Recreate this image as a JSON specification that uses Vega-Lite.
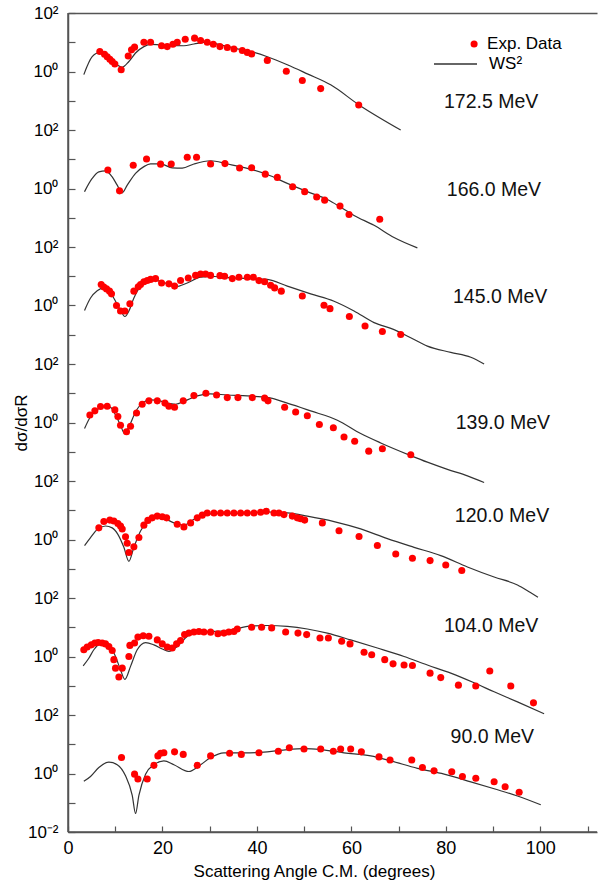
{
"$schema":"https://vega.github.io/schema/vega-lite/v6.json",
"width":529,"height":819,
"autosize":{"type":"none"},
"padding":{"left":68,"top":13,"right":8,"bottom":56},
"background":"white",
"config":{"view":{"stroke":null},"font":"Liberation Sans"},
"resolve":{"axis":{"x":"independent","y":"independent"}},
"datasets":{
"ws":[
{"energy":"172.5","angle":3.35,"ratio":7.8e23},{"energy":"172.5","angle":5.12,"ratio":3.2e24},{"energy":"172.5","angle":6.74,"ratio":4.5e24},{"energy":"172.5","angle":7.94,"ratio":4.3e24},{"energy":"172.5","angle":9.0,"ratio":2.8e24},{"energy":"172.5","angle":10.06,"ratio":1.9e24},{"energy":"172.5","angle":11.48,"ratio":1.4e24},{"energy":"172.5","angle":12.89,"ratio":2.2e24},{"energy":"172.5","angle":14.3,"ratio":4.3e24},{"energy":"172.5","angle":16.07,"ratio":7.1e24},{"energy":"172.5","angle":17.48,"ratio":8.5e24},{"energy":"172.5","angle":19.6,"ratio":8.1e24},{"energy":"172.5","angle":21.72,"ratio":7.8e24},{"energy":"172.5","angle":24.54,"ratio":7.6e24},{"energy":"172.5","angle":26.66,"ratio":8.7e24},{"energy":"172.5","angle":29.48,"ratio":1.0e25},{"energy":"172.5","angle":32.31,"ratio":8.1e24},{"energy":"172.5","angle":35.13,"ratio":6.3e24},{"energy":"172.5","angle":39.37,"ratio":4.5e24},{"energy":"172.5","angle":42.2,"ratio":3.2e24},{"energy":"172.5","angle":46.43,"ratio":1.7e24},{"energy":"172.5","angle":50.67,"ratio":8.3e23},{"energy":"172.5","angle":55.61,"ratio":3.5e23},{"energy":"172.5","angle":61.62,"ratio":7.2e22},{"energy":"172.5","angle":70.44,"ratio":1.0e22},
{"energy":"166.0","angle":3.5,"ratio":7.8e19},{"energy":"166.0","angle":5.12,"ratio":2.2e20},{"energy":"166.0","angle":6.53,"ratio":3.7e20},{"energy":"166.0","angle":7.94,"ratio":4.0e20},{"energy":"166.0","angle":9.36,"ratio":2.5e20},{"energy":"166.0","angle":10.42,"ratio":1.3e20},{"energy":"166.0","angle":11.48,"ratio":7.1e19},{"energy":"166.0","angle":12.54,"ratio":1.3e20},{"energy":"166.0","angle":14.3,"ratio":3.3e20},{"energy":"166.0","angle":16.07,"ratio":5.6e20},{"energy":"166.0","angle":17.48,"ratio":6.9e20},{"energy":"166.0","angle":19.6,"ratio":6.9e20},{"energy":"166.0","angle":22.07,"ratio":5.1e20},{"energy":"166.0","angle":24.19,"ratio":5.0e20},{"energy":"166.0","angle":26.66,"ratio":6.9e20},{"energy":"166.0","angle":30.19,"ratio":8.9e20},{"energy":"166.0","angle":33.72,"ratio":6.9e20},{"energy":"166.0","angle":37.96,"ratio":4.9e20},{"energy":"166.0","angle":42.2,"ratio":3.0e20},{"energy":"166.0","angle":46.43,"ratio":1.5e20},{"energy":"166.0","angle":50.67,"ratio":7.8e19},{"energy":"166.0","angle":54.91,"ratio":4.2e19},{"energy":"166.0","angle":57.73,"ratio":2.3e19},{"energy":"166.0","angle":60.56,"ratio":1.2e19},{"energy":"166.0","angle":64.8,"ratio":5.5e18},{"energy":"166.0","angle":69.03,"ratio":2.1e18},{"energy":"166.0","angle":73.97,"ratio":9.3e17},
{"energy":"145.0","angle":3.5,"ratio":6.8e15},{"energy":"145.0","angle":4.77,"ratio":1.8e16},{"energy":"145.0","angle":6.18,"ratio":3.2e16},{"energy":"145.0","angle":7.59,"ratio":4.0e16},{"energy":"145.0","angle":9.0,"ratio":2.7e16},{"energy":"145.0","angle":10.06,"ratio":1.4e16},{"energy":"145.0","angle":11.12,"ratio":6.8e15},{"energy":"145.0","angle":12.04,"ratio":4.2e15},{"energy":"145.0","angle":12.89,"ratio":6.5e15},{"energy":"145.0","angle":13.95,"ratio":1.8e16},{"energy":"145.0","angle":15.36,"ratio":4.6e16},{"energy":"145.0","angle":17.13,"ratio":6.8e16},{"energy":"145.0","angle":18.9,"ratio":7.1e16},{"energy":"145.0","angle":21.01,"ratio":5.5e16},{"energy":"145.0","angle":22.77,"ratio":4.4e16},{"energy":"145.0","angle":25.25,"ratio":5.9e16},{"energy":"145.0","angle":28.07,"ratio":9.3e16},{"energy":"145.0","angle":30.9,"ratio":9.8e16},{"energy":"145.0","angle":35.13,"ratio":8.7e16},{"energy":"145.0","angle":39.37,"ratio":8.3e16},{"energy":"145.0","angle":42.2,"ratio":7.8e16},{"energy":"145.0","angle":46.43,"ratio":4.6e16},{"energy":"145.0","angle":51.38,"ratio":2.5e16},{"energy":"145.0","angle":56.33,"ratio":1.4e16},{"energy":"145.0","angle":60.56,"ratio":6.5e15},{"energy":"145.0","angle":64.8,"ratio":2.6e15},{"energy":"145.0","angle":69.03,"ratio":1.5e15},{"energy":"145.0","angle":72.56,"ratio":7.9e14},{"energy":"145.0","angle":76.09,"ratio":4.1e14},{"energy":"145.0","angle":81.04,"ratio":2.5e14},{"energy":"145.0","angle":85.28,"ratio":1.7e14},{"energy":"145.0","angle":88.1,"ratio":1.0e14},
{"energy":"139.0","angle":3.5,"ratio":6.2e11},{"energy":"139.0","angle":4.77,"ratio":1.6e12},{"energy":"139.0","angle":6.18,"ratio":2.8e12},{"energy":"139.0","angle":7.59,"ratio":3.5e12},{"energy":"139.0","angle":9.0,"ratio":3.3e12},{"energy":"139.0","angle":10.06,"ratio":1.8e12},{"energy":"139.0","angle":11.12,"ratio":8.1e11},{"energy":"139.0","angle":11.97,"ratio":4.2e11},{"energy":"139.0","angle":12.89,"ratio":7.1e11},{"energy":"139.0","angle":14.3,"ratio":2.3e12},{"energy":"139.0","angle":15.71,"ratio":4.6e12},{"energy":"139.0","angle":17.48,"ratio":5.9e12},{"energy":"139.0","angle":19.25,"ratio":5.6e12},{"energy":"139.0","angle":21.01,"ratio":4.6e12},{"energy":"139.0","angle":22.77,"ratio":4.2e12},{"energy":"139.0","angle":24.89,"ratio":5.6e12},{"energy":"139.0","angle":27.37,"ratio":8.1e12},{"energy":"139.0","angle":30.19,"ratio":9.5e12},{"energy":"139.0","angle":33.72,"ratio":8.7e12},{"energy":"139.0","angle":37.96,"ratio":8.1e12},{"energy":"139.0","angle":42.2,"ratio":7.2e12},{"energy":"139.0","angle":46.43,"ratio":4.6e12},{"energy":"139.0","angle":51.38,"ratio":2.5e12},{"energy":"139.0","angle":57.03,"ratio":1.2e12},{"energy":"139.0","angle":61.97,"ratio":4.2e11},{"energy":"139.0","angle":66.21,"ratio":2.0e11},{"energy":"139.0","angle":72.56,"ratio":7.4e10},{"energy":"139.0","angle":76.09,"ratio":4.4e10},{"energy":"139.0","angle":80.33,"ratio":2.5e10},{"energy":"139.0","angle":84.57,"ratio":1.5e10},{"energy":"139.0","angle":88.1,"ratio":8.9e9},
{"energy":"120.0","angle":3.5,"ratio":6.2e7},{"energy":"120.0","angle":4.77,"ratio":1.17e8},{"energy":"120.0","angle":6.18,"ratio":2.2e8},{"energy":"120.0","angle":7.94,"ratio":2.9e8},{"energy":"120.0","angle":9.36,"ratio":2.5e8},{"energy":"120.0","angle":10.56,"ratio":1.5e8},{"energy":"120.0","angle":11.83,"ratio":5.4e7},{"energy":"120.0","angle":12.89,"ratio":1.8e7},{"energy":"120.0","angle":13.95,"ratio":5.4e7},{"energy":"120.0","angle":15.36,"ratio":1.95e8},{"energy":"120.0","angle":16.77,"ratio":4.1e8},{"energy":"120.0","angle":18.54,"ratio":5.5e8},{"energy":"120.0","angle":20.31,"ratio":5.2e8},{"energy":"120.0","angle":22.42,"ratio":3.7e8},{"energy":"120.0","angle":24.54,"ratio":3.1e8},{"energy":"120.0","angle":26.66,"ratio":4.9e8},{"energy":"120.0","angle":28.78,"ratio":7.1e8},{"energy":"120.0","angle":32.31,"ratio":7.8e8},{"energy":"120.0","angle":37.25,"ratio":7.8e8},{"energy":"120.0","angle":42.2,"ratio":8.7e8},{"energy":"120.0","angle":46.43,"ratio":8.1e8},{"energy":"120.0","angle":50.67,"ratio":6.3e8},{"energy":"120.0","angle":56.33,"ratio":4.1e8},{"energy":"120.0","angle":61.97,"ratio":2.3e8},{"energy":"120.0","angle":67.62,"ratio":1.07e8},{"energy":"120.0","angle":73.27,"ratio":5.4e7},{"energy":"120.0","angle":78.92,"ratio":2.8e7},{"energy":"120.0","angle":84.57,"ratio":1.15e7},{"energy":"120.0","angle":90.22,"ratio":5.2e6},{"energy":"120.0","angle":95.16,"ratio":2.8e6},{"energy":"120.0","angle":97.99,"ratio":1.5e6},{"energy":"120.0","angle":99.5,"ratio":1.07e6},
{"energy":"104.0","angle":3.21,"ratio":4.8e3},{"energy":"104.0","angle":4.41,"ratio":8.7e3},{"energy":"104.0","angle":5.47,"ratio":1.7e4},{"energy":"104.0","angle":6.74,"ratio":2.7e4},{"energy":"104.0","angle":7.94,"ratio":2.9e4},{"energy":"104.0","angle":9.0,"ratio":2.2e4},{"energy":"104.0","angle":10.06,"ratio":1.0e4},{"energy":"104.0","angle":11.12,"ratio":3.5e3},{"energy":"104.0","angle":12.04,"ratio":1.66e3},{"energy":"104.0","angle":13.24,"ratio":4.6e3},{"energy":"104.0","angle":14.65,"ratio":1.7e4},{"energy":"104.0","angle":16.42,"ratio":3.0e4},{"energy":"104.0","angle":18.19,"ratio":2.5e4},{"energy":"104.0","angle":19.96,"ratio":1.8e4},{"energy":"104.0","angle":21.36,"ratio":1.5e4},{"energy":"104.0","angle":23.13,"ratio":2.2e4},{"energy":"104.0","angle":25.25,"ratio":4.9e4},{"energy":"104.0","angle":27.37,"ratio":6.9e4},{"energy":"104.0","angle":30.9,"ratio":7.2e4},{"energy":"104.0","angle":34.43,"ratio":7.9e4},{"energy":"104.0","angle":37.96,"ratio":1.07e5},{"energy":"104.0","angle":42.2,"ratio":1.15e5},{"energy":"104.0","angle":46.43,"ratio":1.07e5},{"energy":"104.0","angle":50.67,"ratio":8.7e4},{"energy":"104.0","angle":54.91,"ratio":6.3e4},{"energy":"104.0","angle":59.85,"ratio":3.7e4},{"energy":"104.0","angle":65.5,"ratio":1.95e4},{"energy":"104.0","angle":71.15,"ratio":1.0e4},{"energy":"104.0","angle":76.09,"ratio":5.1e3},{"energy":"104.0","angle":81.04,"ratio":2.7e3},{"energy":"104.0","angle":85.98,"ratio":1.26e3},{"energy":"104.0","angle":90.22,"ratio":620},{"energy":"104.0","angle":95.16,"ratio":280},{"energy":"104.0","angle":100.8,"ratio":110},
{"energy":"90.0","angle":3.35,"ratio":0.54},{"energy":"90.0","angle":4.77,"ratio":0.79},{"energy":"90.0","angle":6.53,"ratio":1.6},{"energy":"90.0","angle":8.65,"ratio":2.45},{"energy":"90.0","angle":10.42,"ratio":2.0},{"energy":"90.0","angle":12.18,"ratio":0.83},{"energy":"90.0","angle":13.6,"ratio":0.18},{"energy":"90.0","angle":14.3,"ratio":0.043},{"energy":"90.0","angle":15.01,"ratio":0.18},{"energy":"90.0","angle":16.42,"ratio":0.95},{"energy":"90.0","angle":18.19,"ratio":2.0},{"energy":"90.0","angle":20.3,"ratio":2.7},{"energy":"90.0","angle":22.42,"ratio":2.0},{"energy":"90.0","angle":25.6,"ratio":1.17},{"energy":"90.0","angle":27.72,"ratio":1.8},{"energy":"90.0","angle":30.19,"ratio":3.5},{"energy":"90.0","angle":33.02,"ratio":5.1},{"energy":"90.0","angle":37.25,"ratio":5.1},{"energy":"90.0","angle":42.2,"ratio":5.5},{"energy":"90.0","angle":46.43,"ratio":6.6},{"energy":"90.0","angle":49.97,"ratio":7.1},{"energy":"90.0","angle":53.5,"ratio":6.6},{"energy":"90.0","angle":58.44,"ratio":5.1},{"energy":"90.0","angle":64.09,"ratio":4.0},{"energy":"90.0","angle":68.33,"ratio":2.7},{"energy":"90.0","angle":73.98,"ratio":1.5},{"energy":"90.0","angle":79.63,"ratio":0.95},{"energy":"90.0","angle":85.28,"ratio":0.52},{"energy":"90.0","angle":90.22,"ratio":0.30},{"energy":"90.0","angle":95.16,"ratio":0.17},{"energy":"90.0","angle":100.1,"ratio":0.085}
],
"exp":[
{"energy":"172.5","angle":6.74,"ratio":4.8e24},{"energy":"172.5","angle":7.73,"ratio":3.9e24},{"energy":"172.5","angle":8.3,"ratio":3.2e24},{"energy":"172.5","angle":8.86,"ratio":2.6e24},{"energy":"172.5","angle":9.36,"ratio":2.2e24},{"energy":"172.5","angle":9.92,"ratio":1.8e24},{"energy":"172.5","angle":11.26,"ratio":1.15e24},{"energy":"172.5","angle":12.75,"ratio":3.4e24},{"energy":"172.5","angle":13.45,"ratio":5.5e24},{"energy":"172.5","angle":14.09,"ratio":6.8e24},{"energy":"172.5","angle":16.07,"ratio":1.0e25},{"energy":"172.5","angle":17.48,"ratio":1.0e25},{"energy":"172.5","angle":19.81,"ratio":7.6e24},{"energy":"172.5","angle":21.01,"ratio":7.1e24},{"energy":"172.5","angle":22.21,"ratio":8.5e24},{"energy":"172.5","angle":23.13,"ratio":1.0e25},{"energy":"172.5","angle":24.82,"ratio":1.26e25},{"energy":"172.5","angle":26.8,"ratio":1.38e25},{"energy":"172.5","angle":28.07,"ratio":1.15e25},{"energy":"172.5","angle":29.48,"ratio":1.0e25},{"energy":"172.5","angle":30.76,"ratio":8.5e24},{"energy":"172.5","angle":32.17,"ratio":7.1e24},{"energy":"172.5","angle":33.72,"ratio":6.6e24},{"energy":"172.5","angle":35.13,"ratio":5.9e24},{"energy":"172.5","angle":36.9,"ratio":5.2e24},{"energy":"172.5","angle":37.96,"ratio":4.5e24},{"energy":"172.5","angle":38.88,"ratio":4.0e24},{"energy":"172.5","angle":42.2,"ratio":2.4e24},{"energy":"172.5","angle":46.22,"ratio":1.02e24},{"energy":"172.5","angle":49.61,"ratio":4.9e23},{"energy":"172.5","angle":53.5,"ratio":2.6e23},{"energy":"172.5","angle":61.55,"ratio":7.2e22},
{"energy":"166.0","angle":8.44,"ratio":4.3e20},{"energy":"166.0","angle":10.91,"ratio":8.3e19},{"energy":"166.0","angle":13.81,"ratio":6.2e20},{"energy":"166.0","angle":16.63,"ratio":1.02e21},{"energy":"166.0","angle":19.6,"ratio":6.8e20},{"energy":"166.0","angle":21.86,"ratio":6.9e20},{"energy":"166.0","angle":25.25,"ratio":1.17e21},{"energy":"166.0","angle":27.22,"ratio":1.17e21},{"energy":"166.0","angle":30.19,"ratio":6.9e20},{"energy":"166.0","angle":33.23,"ratio":7.1e20},{"energy":"166.0","angle":36.33,"ratio":5.0e20},{"energy":"166.0","angle":38.88,"ratio":5.1e20},{"energy":"166.0","angle":41.77,"ratio":3.1e20},{"energy":"166.0","angle":44.32,"ratio":2.4e20},{"energy":"166.0","angle":47.56,"ratio":1.15e20},{"energy":"166.0","angle":50.11,"ratio":7.8e19},{"energy":"166.0","angle":52.65,"ratio":5.1e19},{"energy":"166.0","angle":54.34,"ratio":4.0e19},{"energy":"166.0","angle":57.59,"ratio":2.5e19},{"energy":"166.0","angle":59.5,"ratio":1.3e19},{"energy":"166.0","angle":66.0,"ratio":8.9e18},
{"energy":"145.0","angle":7.03,"ratio":5.2e16},{"energy":"145.0","angle":7.59,"ratio":4.3e16},{"energy":"145.0","angle":8.16,"ratio":3.7e16},{"energy":"145.0","angle":8.79,"ratio":3.1e16},{"energy":"145.0","angle":9.21,"ratio":2.5e16},{"energy":"145.0","angle":10.27,"ratio":1.0e16},{"energy":"145.0","angle":11.12,"ratio":6.5e15},{"energy":"145.0","angle":12.04,"ratio":6.5e15},{"energy":"145.0","angle":13.1,"ratio":1.15e16},{"energy":"145.0","angle":13.95,"ratio":3.1e16},{"energy":"145.0","angle":14.87,"ratio":4.4e16},{"energy":"145.0","angle":15.36,"ratio":5.2e16},{"energy":"145.0","angle":16.07,"ratio":6.5e16},{"energy":"145.0","angle":16.77,"ratio":7.2e16},{"energy":"145.0","angle":17.48,"ratio":7.8e16},{"energy":"145.0","angle":18.54,"ratio":8.3e16},{"energy":"145.0","angle":19.81,"ratio":5.9e16},{"energy":"145.0","angle":21.36,"ratio":5.5e16},{"energy":"145.0","angle":22.56,"ratio":4.6e16},{"energy":"145.0","angle":23.83,"ratio":7.2e16},{"energy":"145.0","angle":25.46,"ratio":8.7e16},{"energy":"145.0","angle":27.01,"ratio":1.07e17},{"energy":"145.0","angle":28.07,"ratio":1.2e17},{"energy":"145.0","angle":29.13,"ratio":1.2e17},{"energy":"145.0","angle":30.19,"ratio":1.07e17},{"energy":"145.0","angle":32.17,"ratio":1.05e17},{"energy":"145.0","angle":33.16,"ratio":1.0e17},{"energy":"145.0","angle":34.78,"ratio":8.3e16},{"energy":"145.0","angle":36.19,"ratio":9.3e16},{"energy":"145.0","angle":37.96,"ratio":9.3e16},{"energy":"145.0","angle":39.23,"ratio":9.3e16},{"energy":"145.0","angle":40.43,"ratio":7.1e16},{"energy":"145.0","angle":41.63,"ratio":6.5e16},{"energy":"145.0","angle":42.9,"ratio":4.9e16},{"energy":"145.0","angle":43.75,"ratio":4.0e16},{"energy":"145.0","angle":45.16,"ratio":3.1e16},{"energy":"145.0","angle":49.61,"ratio":2.1e16},{"energy":"145.0","angle":54.2,"ratio":1.02e16},{"energy":"145.0","angle":55.47,"ratio":7.8e15},{"energy":"145.0","angle":59.57,"ratio":4.2e15},{"energy":"145.0","angle":62.89,"ratio":2.0e15},{"energy":"145.0","angle":66.56,"ratio":1.3e15},{"energy":"145.0","angle":70.44,"ratio":1.02e15},
{"energy":"139.0","angle":4.63,"ratio":1.8e12},{"energy":"139.0","angle":5.69,"ratio":2.5e12},{"energy":"139.0","angle":6.89,"ratio":3.5e12},{"energy":"139.0","angle":8.3,"ratio":3.6e12},{"energy":"139.0","angle":9.92,"ratio":2.7e12},{"energy":"139.0","angle":10.56,"ratio":1.6e12},{"energy":"139.0","angle":11.12,"ratio":8.1e11},{"energy":"139.0","angle":12.39,"ratio":4.8e11},{"energy":"139.0","angle":13.24,"ratio":7.4e11},{"energy":"139.0","angle":14.51,"ratio":2.1e12},{"energy":"139.0","angle":15.71,"ratio":4.2e12},{"energy":"139.0","angle":17.13,"ratio":5.5e12},{"energy":"139.0","angle":18.9,"ratio":5.5e12},{"energy":"139.0","angle":20.52,"ratio":4.6e12},{"energy":"139.0","angle":21.36,"ratio":3.6e12},{"energy":"139.0","angle":22.56,"ratio":3.3e12},{"energy":"139.0","angle":24.4,"ratio":5.5e12},{"energy":"139.0","angle":26.66,"ratio":8.3e12},{"energy":"139.0","angle":29.2,"ratio":1.0e13},{"energy":"139.0","angle":31.46,"ratio":8.7e12},{"energy":"139.0","angle":33.72,"ratio":7.1e12},{"energy":"139.0","angle":35.98,"ratio":7.1e12},{"energy":"139.0","angle":39.02,"ratio":7.1e12},{"energy":"139.0","angle":41.63,"ratio":6.8e12},{"energy":"139.0","angle":42.34,"ratio":5.5e12},{"energy":"139.0","angle":45.87,"ratio":3.3e12},{"energy":"139.0","angle":48.2,"ratio":2.3e12},{"energy":"139.0","angle":50.67,"ratio":1.7e12},{"energy":"139.0","angle":53.22,"ratio":8.5e11},{"energy":"139.0","angle":56.18,"ratio":6.6e11},{"energy":"139.0","angle":58.44,"ratio":3.2e11},{"energy":"139.0","angle":60.7,"ratio":2.3e11},{"energy":"139.0","angle":63.67,"ratio":1.05e11},{"energy":"139.0","angle":66.56,"ratio":1.26e11},{"energy":"139.0","angle":72.57,"ratio":7.9e10},
{"energy":"120.0","angle":6.53,"ratio":2.5e8},{"energy":"120.0","angle":7.59,"ratio":4.1e8},{"energy":"120.0","angle":8.86,"ratio":4.6e8},{"energy":"120.0","angle":9.71,"ratio":4.3e8},{"energy":"120.0","angle":10.56,"ratio":3.5e8},{"energy":"120.0","angle":11.12,"ratio":2.9e8},{"energy":"120.0","angle":11.48,"ratio":2.3e8},{"energy":"120.0","angle":12.18,"ratio":1.23e8},{"energy":"120.0","angle":12.54,"ratio":7.4e7},{"energy":"120.0","angle":12.89,"ratio":3.6e7},{"energy":"120.0","angle":13.95,"ratio":5.6e7},{"energy":"120.0","angle":15.01,"ratio":1.17e8},{"energy":"120.0","angle":16.07,"ratio":3.1e8},{"energy":"120.0","angle":16.91,"ratio":4.5e8},{"energy":"120.0","angle":17.83,"ratio":5.5e8},{"energy":"120.0","angle":18.9,"ratio":6.3e8},{"energy":"120.0","angle":19.96,"ratio":6.0e8},{"energy":"120.0","angle":20.88,"ratio":5.5e8},{"energy":"120.0","angle":23.13,"ratio":3.3e8},{"energy":"120.0","angle":24.54,"ratio":2.7e8},{"energy":"120.0","angle":25.96,"ratio":3.7e8},{"energy":"120.0","angle":27.37,"ratio":5.5e8},{"energy":"120.0","angle":28.43,"ratio":6.8e8},{"energy":"120.0","angle":29.48,"ratio":8.1e8},{"energy":"120.0","angle":30.9,"ratio":8.1e8},{"energy":"120.0","angle":32.31,"ratio":8.1e8},{"energy":"120.0","angle":33.72,"ratio":8.1e8},{"energy":"120.0","angle":35.13,"ratio":8.1e8},{"energy":"120.0","angle":36.55,"ratio":8.1e8},{"energy":"120.0","angle":37.96,"ratio":8.1e8},{"energy":"120.0","angle":39.37,"ratio":8.1e8},{"energy":"120.0","angle":40.78,"ratio":8.5e8},{"energy":"120.0","angle":41.98,"ratio":9.3e8},{"energy":"120.0","angle":43.61,"ratio":8.1e8},{"energy":"120.0","angle":44.67,"ratio":8.1e8},{"energy":"120.0","angle":45.73,"ratio":7.1e8},{"energy":"120.0","angle":47.49,"ratio":6.3e8},{"energy":"120.0","angle":48.55,"ratio":5.5e8},{"energy":"120.0","angle":49.26,"ratio":5.1e8},{"energy":"120.0","angle":50.11,"ratio":4.6e8},{"energy":"120.0","angle":53.85,"ratio":3.7e8},{"energy":"120.0","angle":57.38,"ratio":2.0e8},{"energy":"120.0","angle":61.62,"ratio":1.26e8},{"energy":"120.0","angle":65.5,"ratio":6.2e7},{"energy":"120.0","angle":69.39,"ratio":3.2e7},{"energy":"120.0","angle":72.92,"ratio":2.3e7},{"energy":"120.0","angle":76.66,"ratio":1.9e7},{"energy":"120.0","angle":79.98,"ratio":1.35e7},{"energy":"120.0","angle":83.37,"ratio":8.7e6},
{"energy":"104.0","angle":3.35,"ratio":1.7e4},{"energy":"104.0","angle":4.06,"ratio":2.1e4},{"energy":"104.0","angle":4.94,"ratio":2.5e4},{"energy":"104.0","angle":5.69,"ratio":2.9e4},{"energy":"104.0","angle":6.39,"ratio":3.0e4},{"energy":"104.0","angle":7.24,"ratio":2.9e4},{"energy":"104.0","angle":7.94,"ratio":2.7e4},{"energy":"104.0","angle":8.65,"ratio":2.2e4},{"energy":"104.0","angle":9.36,"ratio":1.6e4},{"energy":"104.0","angle":9.71,"ratio":7.8e3},{"energy":"104.0","angle":10.06,"ratio":4.0e3},{"energy":"104.0","angle":10.77,"ratio":2.0e3},{"energy":"104.0","angle":11.48,"ratio":4.0e3},{"energy":"104.0","angle":12.89,"ratio":1.0e4},{"energy":"104.0","angle":13.1,"ratio":2.4e4},{"energy":"104.0","angle":14.09,"ratio":2.9e4},{"energy":"104.0","angle":14.8,"ratio":4.6e4},{"energy":"104.0","angle":15.93,"ratio":5.1e4},{"energy":"104.0","angle":17.13,"ratio":4.9e4},{"energy":"104.0","angle":18.9,"ratio":3.7e4},{"energy":"104.0","angle":19.96,"ratio":2.7e4},{"energy":"104.0","angle":21.01,"ratio":2.1e4},{"energy":"104.0","angle":22.07,"ratio":1.95e4},{"energy":"104.0","angle":22.99,"ratio":2.7e4},{"energy":"104.0","angle":23.83,"ratio":3.5e4},{"energy":"104.0","angle":24.68,"ratio":5.6e4},{"energy":"104.0","angle":25.6,"ratio":6.3e4},{"energy":"104.0","angle":26.66,"ratio":6.9e4},{"energy":"104.0","angle":27.72,"ratio":7.2e4},{"energy":"104.0","angle":28.78,"ratio":6.9e4},{"energy":"104.0","angle":30.19,"ratio":6.8e4},{"energy":"104.0","angle":31.74,"ratio":6.0e4},{"energy":"104.0","angle":33.02,"ratio":6.3e4},{"energy":"104.0","angle":34.04,"ratio":6.9e4},{"energy":"104.0","angle":35.13,"ratio":7.2e4},{"energy":"104.0","angle":35.84,"ratio":8.7e4},{"energy":"104.0","angle":38.88,"ratio":1.0e5},{"energy":"104.0","angle":40.99,"ratio":1.0e5},{"energy":"104.0","angle":43.12,"ratio":9.5e4},{"energy":"104.0","angle":46.08,"ratio":6.9e4},{"energy":"104.0","angle":48.69,"ratio":6.3e4},{"energy":"104.0","angle":50.53,"ratio":5.6e4},{"energy":"104.0","angle":53.35,"ratio":4.3e4},{"energy":"104.0","angle":55.12,"ratio":4.3e4},{"energy":"104.0","angle":57.94,"ratio":3.3e4},{"energy":"104.0","angle":59.71,"ratio":2.7e4},{"energy":"104.0","angle":62.68,"ratio":1.4e4},{"energy":"104.0","angle":64.3,"ratio":1.15e4},{"energy":"104.0","angle":67.06,"ratio":7.8e3},{"energy":"104.0","angle":68.82,"ratio":5.6e3},{"energy":"104.0","angle":71.15,"ratio":5.1e3},{"energy":"104.0","angle":72.92,"ratio":4.9e3},{"energy":"104.0","angle":76.66,"ratio":2.7e3},{"energy":"104.0","angle":78.92,"ratio":1.9e3},{"energy":"104.0","angle":82.66,"ratio":1.05e3},{"energy":"104.0","angle":86.33,"ratio":980},{"energy":"104.0","angle":89.3,"ratio":3.2e3},{"energy":"104.0","angle":93.75,"ratio":980},{"energy":"104.0","angle":98.55,"ratio":260},
{"energy":"90.0","angle":11.33,"ratio":3.5},{"energy":"90.0","angle":14.09,"ratio":0.95},{"energy":"90.0","angle":14.8,"ratio":0.65},{"energy":"90.0","angle":16.77,"ratio":0.65},{"energy":"90.0","angle":18.19,"ratio":1.9},{"energy":"90.0","angle":19.03,"ratio":4.0},{"energy":"90.0","angle":19.6,"ratio":4.9},{"energy":"90.0","angle":20.3,"ratio":5.1},{"energy":"90.0","angle":22.56,"ratio":5.5},{"energy":"90.0","angle":24.4,"ratio":4.5},{"energy":"90.0","angle":27.37,"ratio":1.9},{"energy":"90.0","angle":30.19,"ratio":4.0},{"energy":"90.0","angle":34.22,"ratio":4.9},{"energy":"90.0","angle":36.69,"ratio":4.5},{"energy":"90.0","angle":40.43,"ratio":5.1},{"energy":"90.0","angle":44.53,"ratio":5.8},{"energy":"90.0","angle":46.86,"ratio":7.6},{"energy":"90.0","angle":49.97,"ratio":6.9},{"energy":"90.0","angle":53.5,"ratio":6.9},{"energy":"90.0","angle":56.18,"ratio":5.8},{"energy":"90.0","angle":57.73,"ratio":6.9},{"energy":"90.0","angle":59.85,"ratio":6.9},{"energy":"90.0","angle":62.11,"ratio":5.5},{"energy":"90.0","angle":65.85,"ratio":3.7},{"energy":"90.0","angle":68.18,"ratio":2.9},{"energy":"90.0","angle":72.78,"ratio":2.9},{"energy":"90.0","angle":75.04,"ratio":1.6},{"energy":"90.0","angle":77.5,"ratio":1.23},{"energy":"90.0","angle":81.25,"ratio":1.15},{"energy":"90.0","angle":83.51,"ratio":0.79},{"energy":"90.0","angle":86.34,"ratio":0.69},{"energy":"90.0","angle":90.22,"ratio":0.52},{"energy":"90.0","angle":92.55,"ratio":0.35},{"energy":"90.0","angle":95.52,"ratio":0.23}
]
},
"layer":[
{"data":{"name":"ws"},
 "mark":{"type":"line","strokeWidth":1.2,"interpolate":"monotone"},
 "encoding":{
  "x":{"field":"angle","type":"quantitative","scale":{"domain":[0,112],"nice":false,"zero":false},
   "axis":{"orient":"bottom","domain":true,"ticks":true,"values":[0,10,20,30,40,50,60,70,80,90,100,110],"labelExpr":"datum.value % 20 == 0 ? datum.label : ''","tickSize":-6,"labelPadding":13,"grid":false,"labelFlush":false,"labelFontSize":18,"labelColor":"#000","domainColor":"#555","domainWidth":1.5,"tickColor":"#555","tickWidth":1.2,"title":"Scattering Angle C.M. (degrees)","titleFontSize":17,"titleFontWeight":"normal","titleColor":"#000","titlePadding":6,"titleX":246}},
  "y":{"field":"ratio","type":"quantitative","scale":{"type":"log","domain":[0.01,1e26],"nice":false},
   "axis":{"orient":"left","domain":true,"ticks":true,"values":[0.01,0.1,1,10,100,1000,1e4,1e5,1e6,1e7,1e8,1e9,1e10,1e11,1e12,1e13,1e14,1e15,1e16,1e17,1e18,1e19,1e20,1e21,1e22,1e23,1e24,1e25,1e26],
    "labelExpr":"round(log(datum.value)/LN10) % 2 != 0 ? '' : (round(log(datum.value)/LN10) == -2 ? '10⁻²' : (round(log(datum.value)/LN10) % 4 == 0 ? '10⁰' : '10²'))",
    "tickSize":-7,"labelPadding":17,"grid":false,"labelOverlap":false,"labelFlush":false,"labelFontSize":17,"labelColor":"#000","domainColor":"#555","domainWidth":1.5,"tickColor":"#555","tickWidth":1.2,"title":"dσ/dσR","titleFontSize":17,"titleFontWeight":"normal","titleColor":"#000","titlePadding":-3}},
  "detail":{"field":"energy"},
  "stroke":{"datum":"WS²","scale":{"range":["#333333"]},"legend":{"orient":"none","legendX":365,"legendY":28.5,"title":null,"symbolType":"stroke","symbolSize":1849,"symbolStrokeWidth":1.3,"labelFontSize":17,"labelColor":"#000","labelOffset":11,"padding":0}}
 }},
{"data":{"name":"exp"},
 "mark":{"type":"circle","size":50,"opacity":1},
 "encoding":{
  "x":{"field":"angle","type":"quantitative","axis":{"orient":"top","domain":true,"labels":false,"ticks":false,"title":null,"grid":false,"domainColor":"#555","domainWidth":1.5}},
  "y":{"field":"ratio","type":"quantitative","axis":null},
  "color":{"datum":"Exp. Data","scale":{"range":["#ff0000"]},"legend":{"orient":"none","legendX":397.6,"legendY":22.5,"title":null,"symbolType":"circle","symbolSize":50,"labelFontSize":17,"labelColor":"#000","labelOffset":4.5,"padding":0}}
 }},
{"data":{"values":[{}]},"mark":{"type":"rule","color":"#555","strokeWidth":1.5},"encoding":{"x":{"datum":0,"type":"quantitative","axis":null}}},
{"data":{"values":[{}]},"mark":{"type":"rule","color":"#555","strokeWidth":1.5},"encoding":{"y":{"datum":0.01,"type":"quantitative","axis":null}}},
{"data":{"values":[{}]},"mark":{"type":"text","align":"left","baseline":"middle","fontSize":19.5,"color":"#111"},"encoding":{"x":{"datum":79.6,"type":"quantitative","axis":null},"y":{"datum":9.3e22,"type":"quantitative","axis":null},"text":{"value":"172.5 MeV"}}},
{"data":{"values":[{}]},"mark":{"type":"text","align":"left","baseline":"middle","fontSize":19.5,"color":"#111"},"encoding":{"x":{"datum":80.2,"type":"quantitative","axis":null},"y":{"datum":8.7e19,"type":"quantitative","axis":null},"text":{"value":"166.0 MeV"}}},
{"data":{"values":[{}]},"mark":{"type":"text","align":"left","baseline":"middle","fontSize":19.5,"color":"#111"},"encoding":{"x":{"datum":81.5,"type":"quantitative","axis":null},"y":{"datum":1.9e16,"type":"quantitative","axis":null},"text":{"value":"145.0 MeV"}}},
{"data":{"values":[{}]},"mark":{"type":"text","align":"left","baseline":"middle","fontSize":19.5,"color":"#111"},"encoding":{"x":{"datum":82.1,"type":"quantitative","axis":null},"y":{"datum":1e12,"type":"quantitative","axis":null},"text":{"value":"139.0 MeV"}}},
{"data":{"values":[{}]},"mark":{"type":"text","align":"left","baseline":"middle","fontSize":19.5,"color":"#111"},"encoding":{"x":{"datum":81.9,"type":"quantitative","axis":null},"y":{"datum":6.3e8,"type":"quantitative","axis":null},"text":{"value":"120.0 MeV"}}},
{"data":{"values":[{}]},"mark":{"type":"text","align":"left","baseline":"middle","fontSize":19.5,"color":"#111"},"encoding":{"x":{"datum":79.6,"type":"quantitative","axis":null},"y":{"datum":1.1e5,"type":"quantitative","axis":null},"text":{"value":"104.0 MeV"}}},
{"data":{"values":[{}]},"mark":{"type":"text","align":"left","baseline":"middle","fontSize":19.5,"color":"#111"},"encoding":{"x":{"datum":81.0,"type":"quantitative","axis":null},"y":{"datum":17.4,"type":"quantitative","axis":null},"text":{"value":"90.0 MeV"}}}
]
}
